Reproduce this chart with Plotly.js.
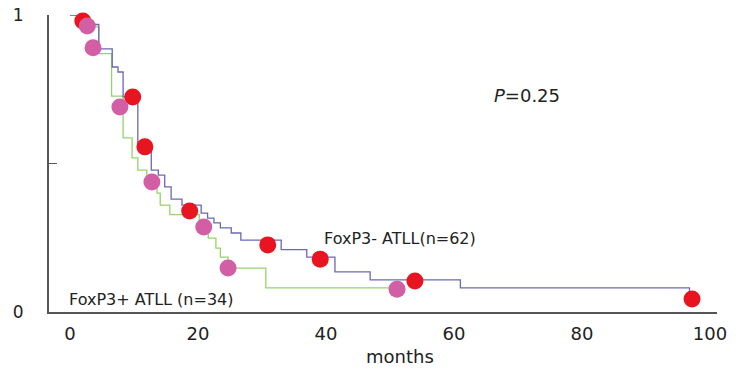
<!DOCTYPE html>
<html>
<head>
<meta charset="utf-8">
<script src="https://cdn.plot.ly/plotly-3.0.1.min.js"></script>
<style>html,body{margin:0;padding:0;background:#fff;}#chart{width:740px;height:369px;}</style>
</head>
<body>
<div id="chart"></div>
<script>
// FoxP3- ATLL (n=62) Kaplan-Meier curve
const negMonths = [0, 1.5, 4.5, 6.6, 7.5, 8.3, 10.6, 12.7, 13.8, 14.8, 15.8, 17.5, 20.5, 21.5, 22.5, 23.5, 25.2, 26.7, 33.0, 37.0, 41.4, 46.9, 61.0, 96.8, 97.2];
const negSurv   = [1, 0.968, 0.886, 0.825, 0.808, 0.724, 0.556, 0.478, 0.461, 0.421, 0.380, 0.36, 0.333, 0.316, 0.300, 0.283, 0.266, 0.242, 0.21, 0.185, 0.135, 0.108, 0.081, 0.044, 0.044];
// FoxP3+ ATLL (n=34) Kaplan-Meier curve
const posMonths = [0, 2.5, 4.5, 6.5, 8.3, 9.7, 10.6, 12.0, 13.6, 14.1, 15.6, 20.2, 21.6, 22.8, 23.5, 24.7, 30.6, 51.1];
const posSurv   = [1, 0.96, 0.87, 0.727, 0.586, 0.519, 0.478, 0.44, 0.40, 0.36, 0.328, 0.29, 0.249, 0.215, 0.185, 0.148, 0.081, 0.081];
// marks
const negMarkMonths = [2.0, 9.8, 11.7, 18.7, 30.9, 39.1, 53.9, 97.2];
const negMarkSurv   = [0.98, 0.724, 0.556, 0.34, 0.226, 0.178, 0.104, 0.044];
const posMarkMonths = [2.7, 3.6, 7.8, 12.8, 20.9, 24.7, 51.1];
const posMarkSurv   = [0.963, 0.89, 0.69, 0.438, 0.286, 0.148, 0.077];
const xTicks = [0, 20, 40, 60, 80, 100];
const yTicks = [0, 0.5, 1];
const yTickText = ['0', '', '1'];

const font = 'DejaVu Sans, Arial, sans-serif';
const traces = [
  {x: posMonths, y: posSurv, mode: 'lines', line: {shape: 'hv', color: '#96d36a', width: 1.3}, name: 'FoxP3+', cliponaxis: false},
  {x: negMonths, y: negSurv, mode: 'lines', line: {shape: 'hv', color: '#6a68b4', width: 1.3}, name: 'FoxP3-', cliponaxis: false},
  {x: negMarkMonths, y: negMarkSurv, mode: 'markers', marker: {color: '#e8141f', size: 17, line: {width: 0}}, cliponaxis: false},
  {x: posMarkMonths, y: posMarkSurv, mode: 'markers', marker: {color: '#d25fa6', size: 17, line: {width: 0}}, cliponaxis: false}
];
const layout = {
  width: 740, height: 369,
  margin: {l: 49, r: 23, t: 15, b: 57},
  paper_bgcolor: '#fff', plot_bgcolor: '#fff',
  showlegend: false,
  font: {family: font, color: '#222'},
  xaxis: {
    range: [-3.28, 101.1], tickvals: xTicks, ticktext: xTicks.map(String),
    showgrid: false, zeroline: false, showline: true, linecolor: '#555', linewidth: 2,
    ticks: '', ticklabelstandoff: 4, tickfont: {size: 18, family: font, color: '#222'}
  },
  yaxis: {
    range: [0, 1], tickvals: yTicks, ticktext: yTickText,
    showgrid: false, zeroline: false, showline: true, linecolor: '#555', linewidth: 2,
    ticks: 'inside', ticklen: 8, tickcolor: '#555', tickwidth: 1.5,
    ticklabelstandoff: 20, tickfont: {size: 17, family: font, color: '#222'}
  },
  annotations: [
    {xref: 'x', yref: 'y', x: 51.5, y: 0, yshift: -44, text: 'months', showarrow: false, font: {size: 18, family: font, color: '#222'}},
    {xref: 'paper', yref: 'paper', x: (527 - 49) / 668, y: (312 - 95) / 297, xanchor: 'center', yanchor: 'middle', text: '<i>P</i>=0.25', showarrow: false, font: {size: 18, family: font, color: '#222'}},
    {xref: 'x', yref: 'y', x: (322 - 70) / 6.4, y: (312 - 238) / 297, xanchor: 'left', yanchor: 'middle', text: 'FoxP3- ATLL(n=62)', showarrow: false, font: {size: 16, family: font, color: '#222'}},
    {xref: 'x', yref: 'y', x: (67 - 70) / 6.4, y: (312 - 299) / 297, xanchor: 'left', yanchor: 'middle', text: 'FoxP3+ ATLL (n=34)', showarrow: false, font: {size: 16, family: font, color: '#222'}}
  ]
};
Plotly.newPlot('chart', traces, layout, {displayModeBar: false, staticPlot: true});
</script>
</body>
</html>
